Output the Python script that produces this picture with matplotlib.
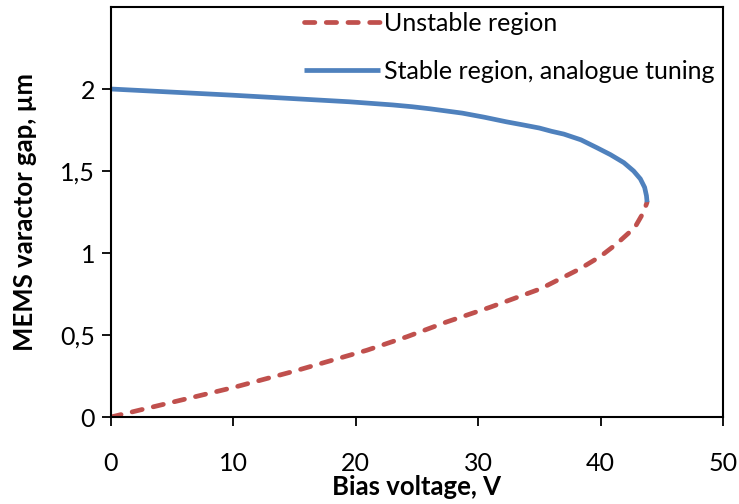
import matplotlib.pyplot as plt

plt.rcParams['font.family'] = ['Lato', 'DejaVu Sans']

# Gap vs bias voltage, stable branch (analogue tuning range)
stable_v = [0, 10, 19.5, 23.0, 24.6, 26.1, 28.7, 30.5, 32.3, 33.6, 35.0, 36.0, 37.0,
            38.4, 39.7, 40.8, 41.9, 42.7, 43.25, 43.6, 43.75, 43.8]
stable_gap = [2.0, 1.962, 1.922, 1.903, 1.892, 1.879, 1.853, 1.828, 1.80, 1.782, 1.762,
              1.742, 1.725, 1.69, 1.642, 1.60, 1.551, 1.50, 1.452, 1.40, 1.349, 1.31]

# Unstable branch below pull-in
unstable_v = [0, 5, 10, 15, 20.9, 24.2, 27.4, 31.0, 35.1, 38.3, 40.0,
              41.3, 42.8, 43.5, 43.8]
unstable_gap = [0, 0.09, 0.18, 0.28, 0.407, 0.49, 0.579, 0.670, 0.782, 0.903, 0.98,
                1.055, 1.156, 1.247, 1.31]

x_ticks = [0, 10, 20, 30, 40, 50]
y_ticks = [0, 0.5, 1, 1.5, 2]
y_tick_labels = ['0', '0,5', '1', '1,5', '2']

fig = plt.figure(figsize=(7.39, 5.04), dpi=100)
ax = fig.add_axes([0.1502, 0.1726, 0.8281, 0.8135])

ax.plot(unstable_v, unstable_gap, color='#C0504D', lw=3.4, dashes=(2.2, 2.4),
        dash_capstyle='round', label='Unstable region')
ax.plot(stable_v, stable_gap, color='#4F81BD', lw=3.4, solid_capstyle='butt',
        solid_joinstyle='round', label='Stable region, analogue tuning')

ax.set_xlim(0, 50)
ax.set_ylim(0, 2.5)
ax.set_xticks(x_ticks)
ax.set_yticks(y_ticks)
ax.set_yticklabels(y_tick_labels)
ax.tick_params(direction='out', length=6.5, width=1.3, labelsize=18, pad=5)
ax.tick_params(axis='x', pad=19)
for s in ax.spines.values():
    s.set_linewidth(1.5)

ax.set_xlabel('Bias voltage, V', fontsize=18.5, fontweight='bold', labelpad=0)
ax.set_ylabel('MEMS varactor gap, µm', fontsize=18.5, fontweight='bold', labelpad=17)

ax.legend(loc='upper left', bbox_to_anchor=(0.295, 1.018), frameon=False,
          fontsize=18, handlelength=3.05, handletextpad=0.15, labelspacing=1.0,
          borderpad=0)

plt.savefig('out.png', dpi=100)
